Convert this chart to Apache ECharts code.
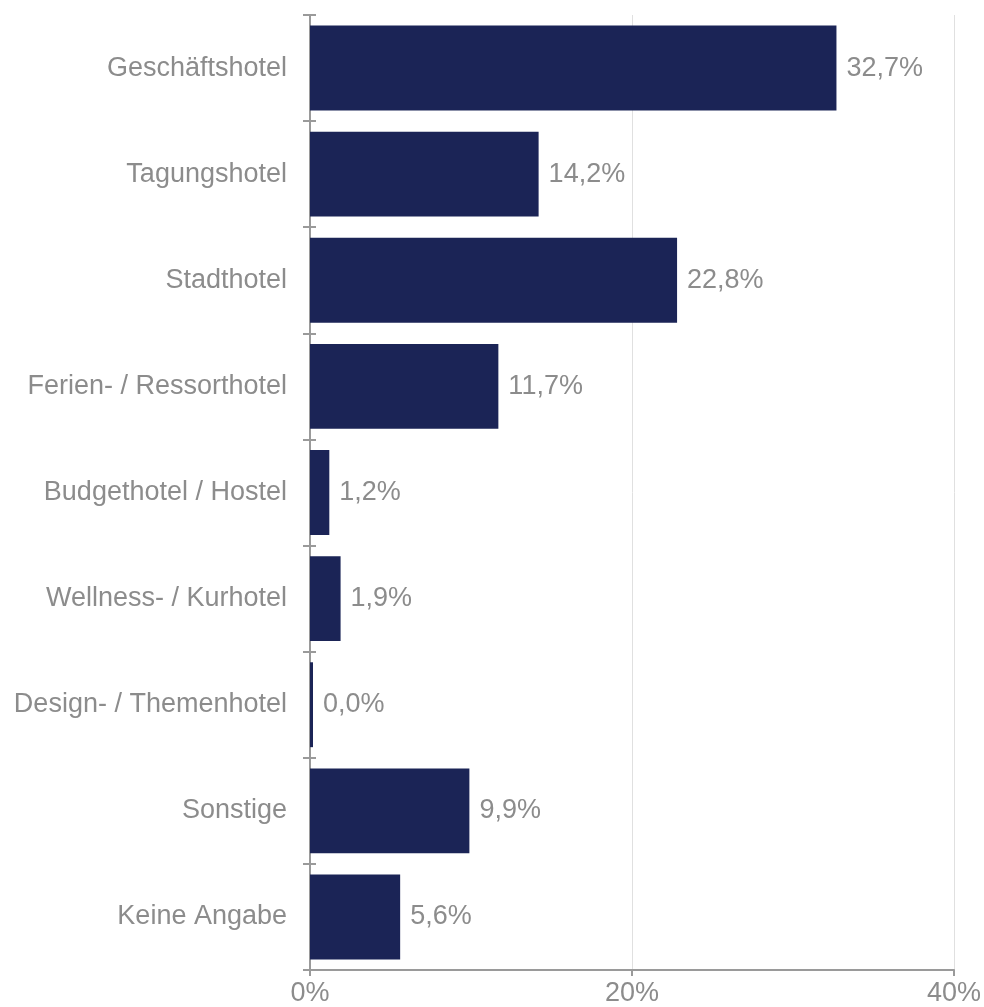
<!DOCTYPE html>
<html>
<head>
<meta charset="utf-8">
<script src="https://cdn.jsdelivr.net/npm/echarts@6/dist/echarts.min.js"></script>
<style>
  html, body { margin: 0; padding: 0; background: #fff; }
  #chart { width: 984px; height: 1007px; }
</style>
</head>
<body>
<div id="chart"></div>
<script>
// Hoteltypen, Anteil in %
const categories = [
  'Geschäftshotel',
  'Tagungshotel',
  'Stadthotel',
  'Ferien- / Ressorthotel',
  'Budgethotel / Hostel',
  'Wellness- / Kurhotel',
  'Design- / Themenhotel',
  'Sonstige',
  'Keine Angabe'
]
const shares = [32.7, 14.2, 22.8, 11.7, 1.2, 1.9, 0.0, 9.9, 5.6]
const xTicks = { min: 0, max: 40, step: 20 }

const textColor = '#8c8c8c'
const axisColor = '#9a9a9a'
const fontFamily = '"Liberation Sans", Arial, sans-serif'

const chart = echarts.init(document.getElementById('chart'))
chart.setOption({
  animation: false,
  textStyle: { fontFamily: fontFamily },
  grid: { left: 310, right: 23, top: 15, bottom: 32, containLabel: false },
  xAxis: {
    type: 'value',
    min: xTicks.min,
    max: xTicks.max,
    interval: xTicks.step,
    axisLine: { show: true, lineStyle: { color: axisColor, width: 2 } },
    axisTick: { show: true, length: 6, lineStyle: { color: axisColor, width: 2 } },
    axisLabel: {
      color: textColor,
      fontSize: 27,
      fontFamily: fontFamily,
      margin: 10,
      formatter: '{value}%'
    },
    splitLine: { show: true, lineStyle: { color: '#e0e0e0', width: 1 } }
  },
  yAxis: [
    {
      type: 'category',
      data: categories,
      inverse: true,
      axisLine: { show: true, lineStyle: { color: axisColor, width: 2 } },
      axisTick: { show: true, length: 7, lineStyle: { color: axisColor, width: 2 } },
      axisLabel: {
        color: textColor,
        fontSize: 27,
        fontFamily: fontFamily,
        margin: 23
      }
    },
    {
      // second axis only for the tick part that crosses into the plot
      type: 'category',
      data: categories,
      inverse: true,
      position: 'left',
      axisLine: { show: false },
      axisTick: { show: true, inside: true, length: 6, lineStyle: { color: axisColor, width: 2 } },
      axisLabel: { show: false }
    }
  ],
  series: [
    {
      type: 'bar',
      data: shares,
      barCategoryGap: '20%',
      barMinHeight: 3,
      itemStyle: { color: '#1b2456' },
      label: {
        show: true,
        position: 'right',
        distance: 10,
        color: textColor,
        fontSize: 27,
        fontFamily: fontFamily,
        formatter: function (p) {
          return p.value.toFixed(1).replace('.', ',') + '%'
        }
      }
    }
  ]
})
</script>
</body>
</html>
